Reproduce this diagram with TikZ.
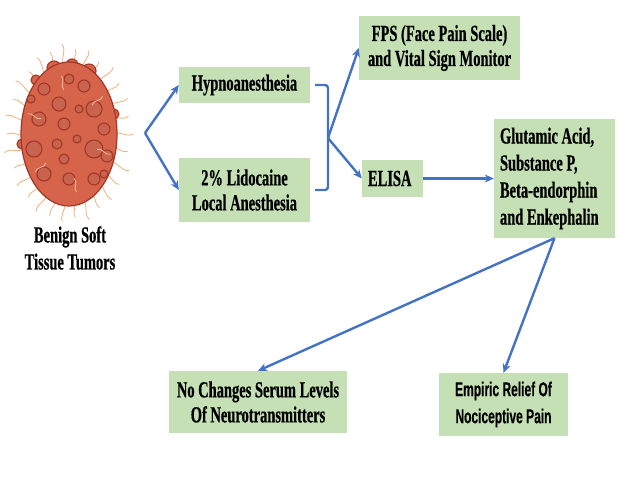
\documentclass[tikz,border=0pt]{standalone}
\usepackage{fontspec}
\newfontfamily\boxfont{Liberation Serif}[FakeStretch=0.63,BoldFeatures={FakeBold=0.6}]
\newfontfamily\boxsans{Liberation Sans}[FakeStretch=0.6,BoldFeatures={FakeBold=0.3}]
\usetikzlibrary{arrows.meta}
\usetikzlibrary{positioning}
\definecolor{boxgreen}{HTML}{C5E0B4}
\definecolor{arrowblue}{HTML}{4472C4}
\definecolor{tumorred}{HTML}{D6644B}
\definecolor{tumordark}{HTML}{A33626}
\definecolor{hairorange}{HTML}{F0B07C}

\begin{document}
\begin{tikzpicture}
				[x=1pt,y=-1pt,
				box/.style={fill=boxgreen,inner sep=0pt,align=center,font=\boxfont\bfseries\fontsize{23}{25}\selectfont},
				link/.style={draw=arrowblue,line width=2.4pt,-{Stealth[length=9pt,width=8pt]}},
				hair/.style={draw=hairorange,line width=0.8pt},
				bump/.style={fill=tumorred,draw=tumordark,line width=1.1pt}]
				\useasboundingbox (0,0) rectangle (640,480);
				
				% tumor picture
				\begin{scope}[shift={(69,134)}]
				\foreach \a/\l in {0/20,12/16,24/22,36/18,48/20,60/17,72/22,84/16,96/20,108/18,120/22,132/17,
					144/20,156/16,168/22,180/18,192/20,204/17,216/22,228/16,240/20,252/18,264/22,276/17,
					288/20,300/16,312/22,324/18,336/20,348/17}
				\draw[hair] (\a:44 and 68) to[out=-\a+30,in=-\a+210] ++(\a:\l);
				\foreach \x/\y/\r in {-15/-66/7,3/-69/6,20/-63/7,-33/-54/5,45/-20/5,-47/10/5}
				\draw[bump] (\x,\y) circle (\r);
				\fill[tumorred,draw=tumordark,line width=1.2pt] (0,0) ellipse [x radius=48,y radius=72];
				\foreach \x/\y/\r in {-25/-45/6,0/-55/5,15/-48/6,-10/-30/7,25/-25/8,-30/-15/7,-5/-10/6,10/-25/4,
					35/-5/6,-35/15/8,-12/10/5,8/5/4,25/15/9,38/22/6,-25/40/7,0/45/6,25/45/6,-5/25/5,35/40/4,-38/-35/4}
				\draw[bump,fill=tumorred!92!black!95!white] (\x,\y) circle (\r);
				\foreach \a in {20,80,140,200,260,320}
				\draw[hair,hairorange!80] (\a:30 and 45) to[out=-\a+40,in=-\a+220] ++(\a:14);
				\end{scope}
				\node[align=center,font=\boxfont\bfseries\fontsize{23}{27}\selectfont] (tumorlbl) at (70,248) {Benign Soft\\Tissue Tumors};
				
				% boxes
				\node[box,minimum width=131,minimum height=36] (hyp) at (244.5,85) {Hypnoanesthesia};
				\node[box,minimum width=131,minimum height=64] (lido) at (244.5,190) {2\% Lidocaine\\Local Anesthesia};
				\node[box,minimum width=161,minimum height=64] (fps) at (439.5,48) {FPS (Face Pain Scale)\\and Vital Sign Monitor};
				\node[box,align=flush left,text width=49,minimum width=61,minimum height=37] (elisa) at (392.5,178.5) {ELISA};
				\node[box,align=flush left,text width=109,minimum width=121,minimum height=119,font=\boxfont\bfseries\fontsize{23}{27}\selectfont] (glut) at (554.5,178.5) {Glutamic Acid,\\Substance P,\\Beta-endorphin\\and Enkephalin};
				\node[box,minimum width=178,minimum height=62] (nochg) at (258,402) {No Changes Serum Levels\\Of Neurotransmitters};
				\node[box,minimum width=129,minimum height=63,font=\boxsans\bfseries\fontsize{20}{27}\selectfont] (emp) at (503.5,404.5) {Empiric Relief Of\\Nociceptive Pain};
				
				\coordinate (fork) at (145,133);
				\coordinate (br) at (328,138);
				
				\draw[draw=arrowblue,line width=2.4pt,rounded corners=3pt] ([xshift=5pt]hyp.east) -| (br) |- ([xshift=5pt]lido.east);
				\foreach \from/\to in {fork/hyp.west, fork/lido.west, br/fps.west, br/elisa.west, elisa/glut, glut.south/nochg.north, glut.south/emp.north}
				\draw[link] (\from) -- (\to);
\end{tikzpicture}
\end{document}
